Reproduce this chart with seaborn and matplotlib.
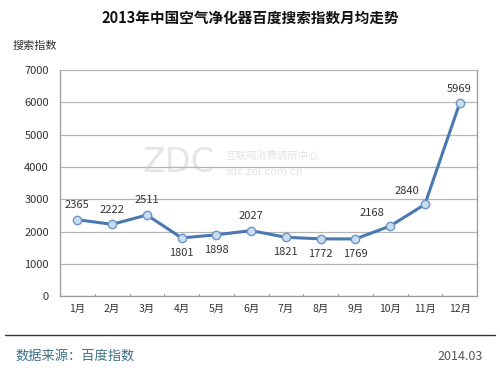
import matplotlib
matplotlib.use('Agg')
import matplotlib.pyplot as plt
import seaborn as sns
import pandas as pd

# Data
months = ['1月', '2月', '3月', '4月', '5月', '6月', '7月', '8月', '9月', '10月', '11月', '12月']
index_values = [2365, 2222, 2511, 1801, 1898, 2027, 1821, 1772, 1769, 2168, 2840, 5969]
# label placement: 1 = above, -1 = below, 2 = above-left
label_side = [1, 1, 1, -1, -1, 1, -1, -1, -1, 2, 2, 1]
y_ticks = [0, 1000, 2000, 3000, 4000, 5000, 6000, 7000]

sns.set_style('white')
plt.rcParams['font.family'] = ['Noto Sans CJK SC', 'DejaVu Sans']

df = pd.DataFrame({'month': months, 'value': index_values})
df['pos'] = range(len(months))

fig = plt.figure(figsize=(5, 3.71), dpi=100)
ax = fig.add_axes([0.12, 0.202, 0.834, 0.609])

line_color = '#4a78b0'
sns.lineplot(data=df, x='pos', y='value', ax=ax, color=line_color, linewidth=2.2,
             marker='o', markersize=6, markerfacecolor='#c9dcf2',
             markeredgecolor='#6d95c6', markeredgewidth=1)

for x, v, s in zip(df['pos'], index_values, label_side):
    if s == 1:
        ax.annotate(str(v), (x, v), xytext=(0, 7), textcoords='offset points',
                    ha='center', va='bottom', fontsize=8, color='#333333')
    elif s == -1:
        ax.annotate(str(v), (x, v), xytext=(0, -7), textcoords='offset points',
                    ha='center', va='top', fontsize=8, color='#333333')
    else:
        ax.annotate(str(v), (x, v), xytext=(-4, 6), textcoords='offset points',
                    ha='right', va='bottom', fontsize=8, color='#333333')

ax.set_xlim(-0.5, len(months) - 0.5)
ax.set_ylim(0, 7000)
ax.set_yticks(y_ticks)
ax.set_yticklabels([str(t) for t in y_ticks], fontsize=8, color='#333333')
ax.set_xticks(range(len(months)))
ax.set_xticklabels(months, fontsize=7.5, color='#333333')
ax.tick_params(axis='y', length=0, pad=8)
ax.tick_params(axis='x', length=0, pad=6)
ax.set_xlabel('')
ax.set_ylabel('')
ax.grid(axis='y', color='#b5b5b5', linewidth=0.9)
ax.set_axisbelow(True)
for side in ['left', 'right', 'bottom']:
    ax.spines[side].set_color('#9a9a9a')
    ax.spines[side].set_linewidth(0.9)
ax.spines['top'].set_visible(False)

# small tick marks between categories on the x axis
for b in range(1, len(months)):
    ax.plot([b - 0.5, b - 0.5], [0, 60], color='#9a9a9a', linewidth=0.8,
            clip_on=False)

# faint watermark
ax.text(0.37, 0.59, 'ZDC', transform=ax.transAxes, fontsize=24, color='#e6e6e6',
        ha='right', va='center', family='DejaVu Sans', zorder=0)
ax.text(0.396, 0.62, '互联网消费调研中心', transform=ax.transAxes, fontsize=7.5,
        color='#e3e3e3', ha='left', va='center', zorder=0)
ax.text(0.396, 0.55, 'zdc.zol.com.cn', transform=ax.transAxes, fontsize=7.5,
        color='#e3e3e3', ha='left', va='center', family='DejaVu Sans', zorder=0)

fig.text(0.5, 0.952, '2013年中国空气净化器百度搜索指数月均走势', ha='center', va='center',
         fontsize=10.5, fontweight='bold', color='#111111')
fig.text(0.025, 0.876, '搜索指数', ha='left', va='center', fontsize=8, color='#333333')

# separator line and footer
fig.add_artist(plt.Line2D([0.01, 0.99], [0.097, 0.097], color='#333333', linewidth=1))
fig.text(0.03, 0.04, '数据来源：百度指数', ha='left', va='center', fontsize=9.5,
         color='#3d7088')
fig.text(0.965, 0.04, '2014.03', ha='right', va='center', fontsize=9, color='#555555')

fig.savefig('out.png', dpi=100)
